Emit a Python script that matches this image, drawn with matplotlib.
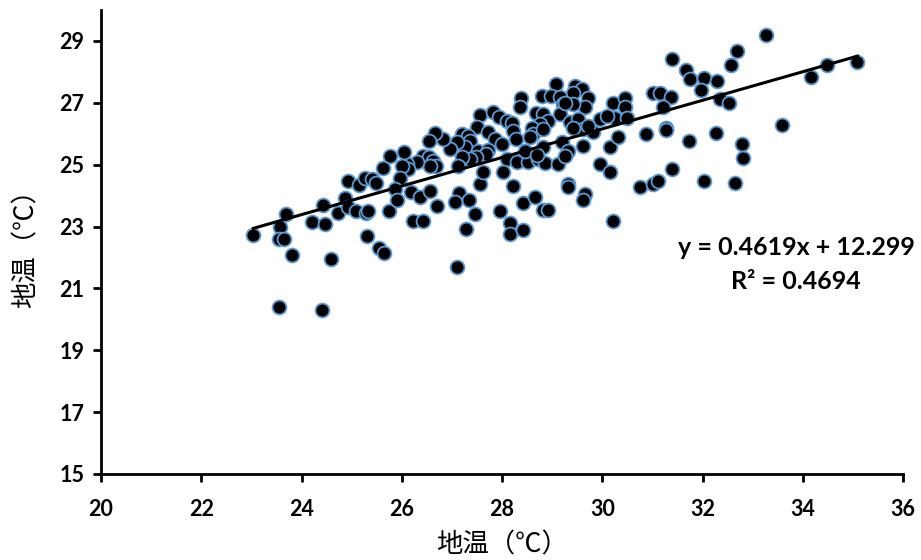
import matplotlib
matplotlib.use('Agg')
import matplotlib.pyplot as plt
import numpy as np

# soil temperature pairs
x_vals = [
    23.04, 23.57, 23.56, 23.66, 23.69, 23.80, 23.55, 24.40, 24.20, 24.47,
    24.43, 24.59, 24.73, 24.87, 24.93, 24.92, 25.08, 25.14, 25.27, 25.40,
    25.49, 25.29, 25.33, 25.31, 25.55, 25.64, 25.63, 25.76, 25.74,
    29.07, 29.46, 29.59, 29.41, 28.80, 28.97, 29.16, 28.37, 28.35, 27.57,
    27.81, 27.93, 28.09, 28.19, 30.22, 30.25, 29.95, 30.09, 29.72, 29.66,
    29.42, 29.21, 29.16, 29.36, 29.52, 29.62, 29.82, 28.68, 28.82, 28.92,
    28.76, 28.59, 28.62, 28.82, 27.51, 27.71, 27.86, 27.99, 28.21, 28.28,
    27.20, 27.33, 27.37, 27.26, 27.10, 26.96, 26.83, 26.66, 26.55, 27.53,
    27.71, 27.68, 27.49, 27.36, 27.20, 27.13, 28.09, 28.29, 28.52, 28.72,
    28.86, 29.12, 29.19, 29.32, 29.26, 28.46, 26.43, 26.55, 26.62, 26.68,
    26.56, 26.31, 26.10, 26.13, 26.00, 26.04, 25.97, 25.87, 25.91, 26.18,
    26.36, 26.56, 26.71, 26.23, 26.42, 27.29, 27.15, 27.06, 27.35, 27.46,
    27.57, 27.63, 28.01, 27.95, 28.21, 28.16, 28.16, 28.41, 28.41, 28.66,
    28.81, 28.92, 29.31, 29.32, 29.66, 29.62, 30.22, 29.61, 30.15, 30.31,
    29.95, 30.15, 27.10, 29.42, 29.72, 28.82, 28.56, 29.25, 28.69,
    33.26, 32.68, 32.57, 31.40, 31.67, 31.75, 32.02, 32.28, 31.97, 32.34,
    32.52, 31.02, 31.15, 31.37, 31.22, 30.45, 30.45, 30.50, 30.87, 31.27,
    31.28, 31.72, 32.26, 32.78, 32.81, 33.58, 31.40, 30.75, 31.02, 31.12,
    32.02, 32.65, 34.16, 34.48, 35.09,
]
y_vals = [
    22.71, 23.00, 22.59, 22.59, 23.40, 22.09, 20.39, 20.29, 23.14, 23.09,
    23.68, 21.94, 23.45, 23.92, 24.46, 23.62, 23.49, 24.34, 24.57, 24.54,
    24.40, 23.45, 23.49, 22.70, 22.30, 22.15, 24.89, 25.27, 23.49,
    27.60, 27.55, 27.44, 27.33, 27.23, 27.23, 27.19, 27.15, 26.87, 26.61,
    26.69, 26.53, 26.40, 26.33, 26.98, 26.51, 26.47, 26.58, 27.17, 26.87,
    26.96, 26.96, 26.63, 26.37, 26.47, 26.15, 26.04, 26.66, 26.63, 26.42,
    26.31, 26.20, 25.99, 26.15, 26.23, 26.04, 25.83, 25.67, 26.10, 25.83,
    25.99, 25.94, 25.77, 25.56, 25.72, 25.51, 25.83, 26.01, 25.77, 25.45,
    25.47, 25.34, 25.24, 25.18, 25.24, 24.97, 25.18, 25.07, 25.07, 25.18,
    25.04, 25.02, 25.72, 25.45, 25.29, 25.45, 25.29, 25.24, 25.13, 24.97,
    24.97, 25.07, 25.02, 24.86, 24.97, 25.40, 24.57, 24.22, 23.86, 24.11,
    23.95, 24.16, 23.66, 23.19, 23.19, 22.92, 24.08, 23.79, 23.86, 23.39,
    24.38, 24.75, 24.75, 23.49, 24.32, 23.11, 22.76, 22.89, 23.75, 23.97,
    23.52, 23.54, 24.38, 24.27, 24.05, 23.86, 23.19, 25.61, 25.56, 25.88,
    25.02, 24.75, 21.69, 26.20, 26.25, 25.56, 25.88, 27.00, 25.30,
    29.19, 28.66, 28.23, 28.43, 28.05, 27.76, 27.80, 27.71, 27.42, 27.12,
    26.98, 27.30, 27.33, 27.19, 26.87, 27.17, 26.87, 26.51, 25.99, 26.18,
    26.12, 25.77, 26.02, 25.67, 25.22, 26.28, 24.86, 24.27, 24.38, 24.46,
    24.46, 24.41, 27.84, 28.23, 28.32,
]

slope = 0.4619
intercept = 12.299
r_squared = 0.4694

x_ticks = [20, 22, 24, 26, 28, 30, 32, 34, 36]
y_ticks = [15, 17, 19, 21, 23, 25, 27, 29]

cjk = ['Noto Sans CJK SC', 'DejaVu Sans']
num_font = ['Lato', 'DejaVu Sans']

fig = plt.figure(figsize=(9.21, 5.60), dpi=100)
ax = fig.add_axes([0.1097, 0.1536, 0.8708, 0.8286])

ax.scatter(x_vals, y_vals, s=100, c='black', edgecolors='#5b9bd5',
           linewidths=1.3, zorder=3)

xs = np.array([min(x_vals), max(x_vals)])
ax.plot(xs, slope * xs + intercept, color='black', lw=2.2, zorder=4)

ax.set_xlim(20, 36)
ax.set_ylim(15, 30)
ax.set_xticks(x_ticks)
ax.set_yticks(y_ticks)

for s in ['top', 'right']:
    ax.spines[s].set_visible(False)
for s in ['left', 'bottom']:
    ax.spines[s].set_linewidth(2)
ax.tick_params(direction='out', length=6, width=2, pad=6)
for lab in ax.get_xticklabels() + ax.get_yticklabels():
    lab.set_fontfamily(num_font)
    lab.set_fontweight('bold')
    lab.set_fontsize(15.5)
ax.tick_params(axis='x', pad=12)

ax.set_xlabel('地温（℃）', family=cjk, fontsize=19, labelpad=8)
ax.set_ylabel('地温（℃）', family=cjk, fontsize=19, labelpad=14)

ax.text(0.867, 0.489, f'y = {slope}x + {intercept}', transform=ax.transAxes,
        ha='center', va='center', family=num_font, fontweight='bold', fontsize=18)
ax.text(0.867, 0.414, f'R² = {r_squared}', transform=ax.transAxes,
        ha='center', va='center', family=num_font, fontweight='bold', fontsize=18)

fig.savefig('out.png', dpi=100)
